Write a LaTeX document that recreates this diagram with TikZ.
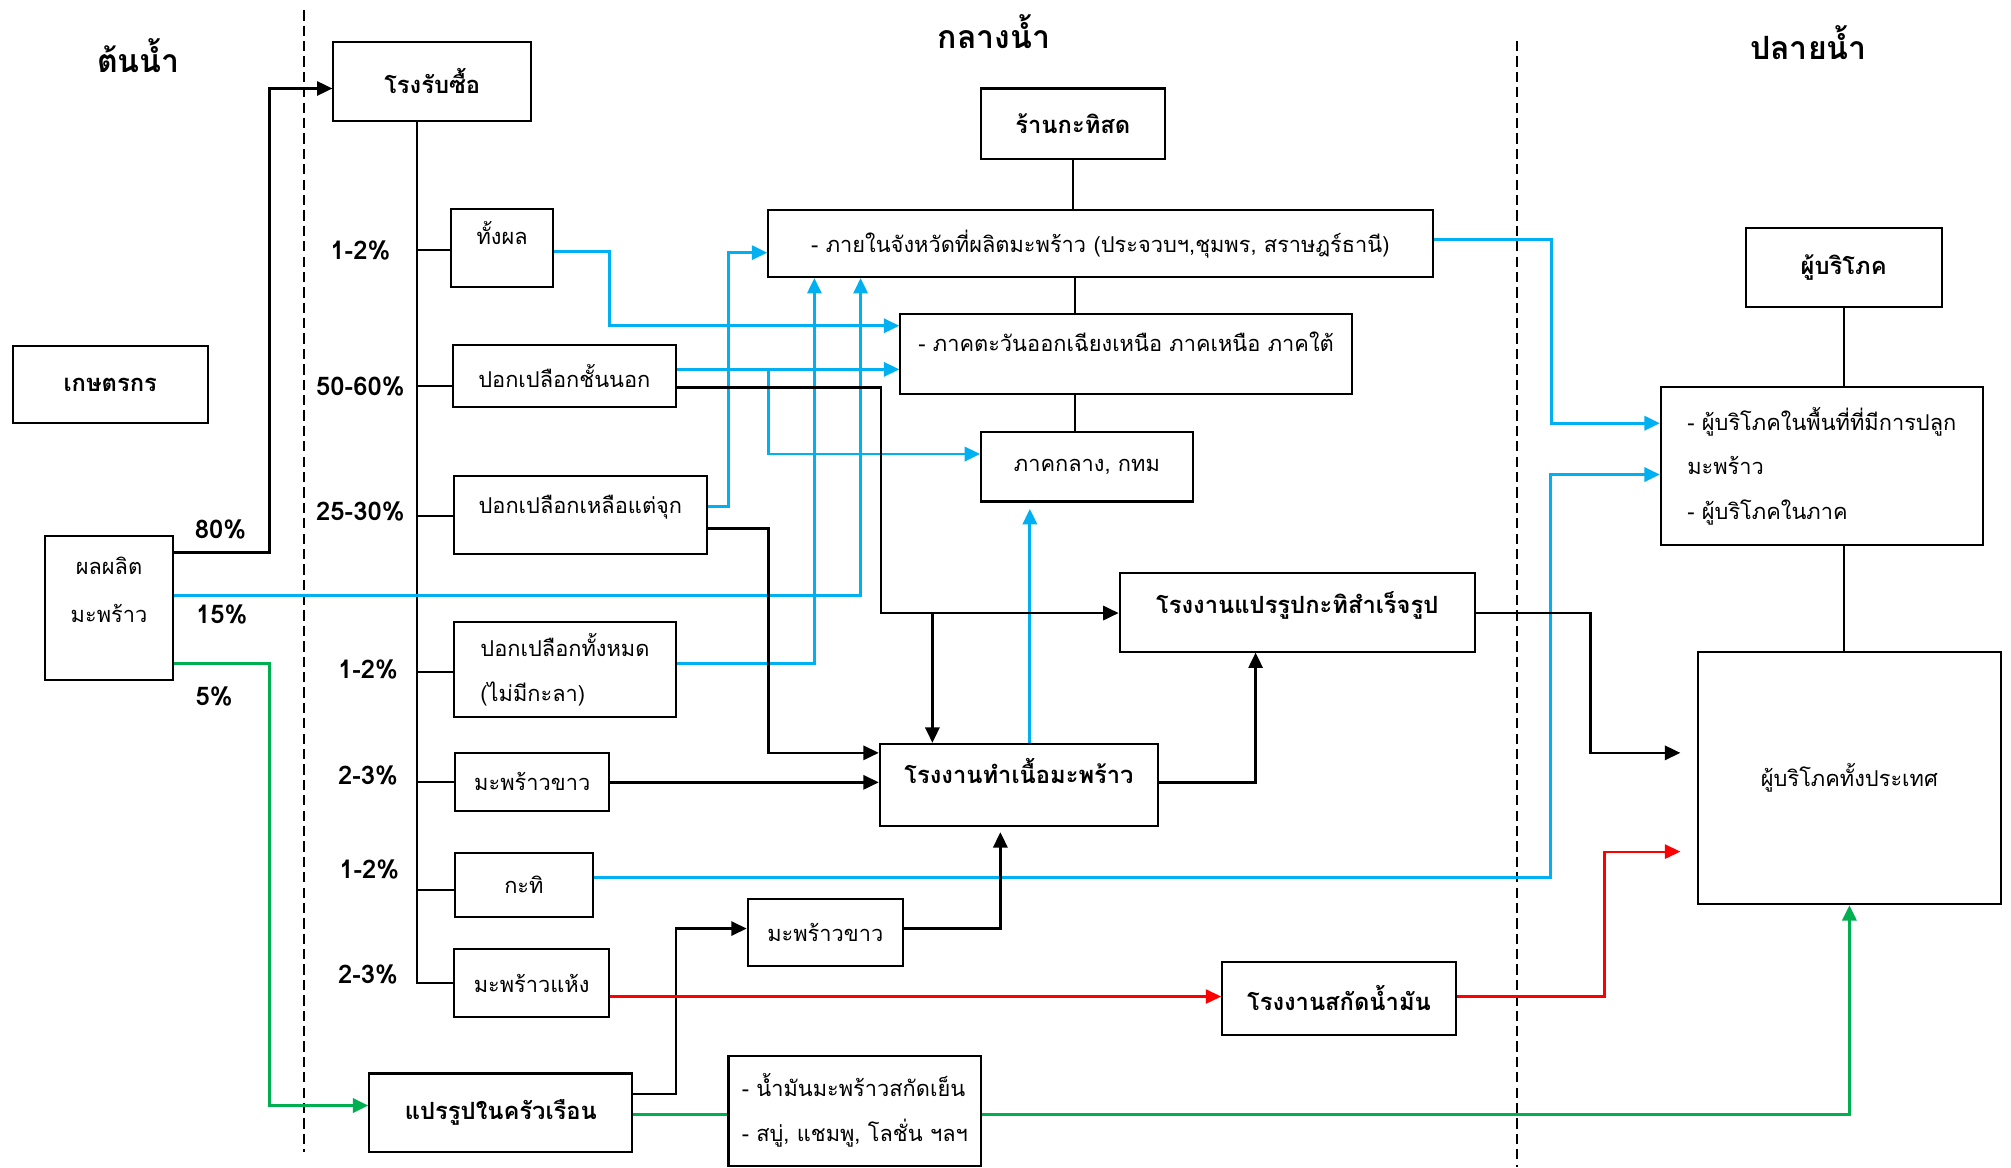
\documentclass[tikz,border=0pt]{standalone}
\usepackage{fontspec}
\setmainfont{Loma}[Script=Thai]
\usetikzlibrary{arrows.meta, positioning}

\definecolor{skyline}{HTML}{00B0F0}
\definecolor{redline}{HTML}{FF0000}
\definecolor{greenline}{HTML}{00B050}

\tikzset{
  box/.style={draw, line width=1.6pt, inner sep=2pt, align=left,
    font=\fontsize{17}{35}\selectfont},
  bbox/.style={box, font=\fontsize{18.5}{35}\selectfont\bfseries},
  lift/.style={text height=12pt, text depth=#1},
  pct/.style={font=\fontsize{20}{22}\selectfont\bfseries},
  zone/.style={font=\fontsize{25}{28}\selectfont\bfseries},
  link/.style={line width=1.6pt},
  flowblk/.style={line width=2pt, -{Triangle[length=12pt,width=11pt]}},
  sky/.style={flowblk, line width=2.3pt, color=skyline},
  redflow/.style={flowblk, line width=1.7pt, color=redline},
  greenflow/.style={flowblk, line width=2.3pt, color=greenline},
  greenline/.style={line width=2.3pt, color=greenline},
  divider/.style={line width=1.3pt, dash pattern=on 8pt off 4pt}
}

\begin{document}
\begin{tikzpicture}[x=1pt, y=-1pt]
\useasboundingbox (0,0) rectangle (1568,910);

% zones
\draw[divider] (237,8) -- (237,898);
\draw[divider] (1183,32) -- (1183,910);
\node[zone] (upstream) at (108,43) {ต้นน้ำ};
\node[zone] (midstream) at (775,25) {กลางน้ำ};
\node[zone] (downstream) at (1410,33) {ปลายน้ำ};

% upstream
\node[bbox, minimum width=152pt, minimum height=60pt] (farmer) at (86,300) {เกษตรกร};
\node[box, minimum width=100pt, minimum height=112pt,
  label={[font=\fontsize{17}{37}\selectfont, align=center, yshift=14pt]center:ผลผลิต\\มะพร้าว}] (product) at (85,474) {};

% buying yard and its outputs
\node[bbox, minimum width=154pt, minimum height=61pt] (buy) at (337,63.5) {โรงรับซื้อ};
\node[box, lift=17pt, minimum width=79pt, minimum height=61pt] (whole) at (391.5,193.5) {ทั้งผล};
\node[box, minimum width=174pt, minimum height=48pt] (outer) at (440,293) {ปอกเปลือกชั้นนอก};
\node[box, lift=15pt, minimum width=197pt, minimum height=61pt] (jook) at (452.5,401.5) {ปอกเปลือกเหลือแต่จุก};
\node[box, minimum width=173pt, minimum height=74pt] (allhusk) at (440.5,522) {ปอกเปลือกทั้งหมด\\(ไม่มีกะลา)};
\node[box, minimum width=120pt, minimum height=45pt] (white1) at (415,609.5) {มะพร้าวขาว};
\node[box, minimum width=107pt, minimum height=50pt] (kati) at (408.5,690) {กะทิ};
\node[box, minimum width=121pt, minimum height=53pt] (dry) at (414.5,766.5) {มะพร้าวแห้ง};
\node[bbox, minimum width=205pt, minimum height=61pt] (household) at (390.5,867.5) {แปรรูปในครัวเรือน};
\node[box, minimum width=197pt, minimum height=86pt] (goods) at (666.5,866) {- น้ำมันมะพร้าวสกัดเย็น\\- สบู่, แชมพู, โลชั่น ฯลฯ};

% percentages
\node[pct] (p80) at (172,413) {80\%};
\node[pct] (p15) at (173,479) {15\%};
\node[pct] (p5) at (167,543) {5\%};
\node[pct] (pwhole) at (281,195) {1-2\%};
\node[pct] (pouter) at (281,301) {50-60\%};
\node[pct] (pjook) at (281,399) {25-30\%};
\node[pct] (pall) at (287,522) {1-2\%};
\node[pct] (pwhite) at (287,605) {2-3\%};
\node[pct] (pkati) at (288,678) {1-2\%};
\node[pct] (pdry) at (287,760) {2-3\%};

% midstream
\node[bbox, minimum width=143pt, minimum height=55pt] (shop) at (836.5,96.5) {ร้านกะทิสด};
\node[box, minimum width=518pt, minimum height=52pt] (prov) at (858,190) {- ภายในจังหวัดที่ผลิตมะพร้าว (ประจวบฯ,ชุมพร, สราษฎร์ธานี)};
\node[box, lift=16pt, minimum width=352pt, minimum height=62pt] (ne) at (878,276) {- ภาคตะวันออกเฉียงเหนือ ภาคเหนือ ภาคใต้};
\node[box, minimum width=165pt, minimum height=54pt] (central) at (847.5,364) {ภาคกลาง, กทม};
\node[bbox, lift=11pt, minimum width=277pt, minimum height=61pt] (ready) at (1011.5,477.5) {โรงงานแปรรูปกะทิสำเร็จรูป};
\node[bbox, lift=14pt, minimum width=217pt, minimum height=64pt] (meat) at (794.5,612) {โรงงานทำเนื้อมะพร้าว};
\node[box, minimum width=121pt, minimum height=52pt] (white2) at (643.5,727) {มะพร้าวขาว};
\node[bbox, minimum width=182pt, minimum height=57pt] (oil) at (1044,778.5) {โรงงานสกัดน้ำมัน};

% downstream
\node[bbox, minimum width=153pt, minimum height=61pt] (consumer) at (1437.5,208.5) {ผู้บริโภค};
\node[box, minimum width=251pt, minimum height=123pt] (local) at (1420.5,363.5) {- ผู้บริโภคในพื้นที่ที่มีการปลูก\\มะพร้าว\\- ผู้บริโภคในภาค};
\node[box, minimum width=236pt, minimum height=197pt] (country) at (1442,606.5) {ผู้บริโภคทั้งประเทศ};

% buying yard tree
\draw[link] (buy.south -| 325,0) |- (dry.west);
\foreach \n/\y in {whole/195, outer/301, jook/402, allhusk/524, white1/610, kati/694}
  \draw[link] (325,\y) -- (\n.west |- 0,\y);

% from the farm
\draw[flowblk] (product.east |- 0,431) -| (210,69) -- (buy.west |- 0,69);
\draw[sky] (product.east |- 0,464) -| (prov.south -| 671,0);
\draw[greenflow] (product.east |- 0,517) -| (210,862) -- (household.west |- 0,862);

% blue: fresh trade
\draw[sky] (whole.east |- 0,196) -| (475,254) -- (ne.west |- 0,254);
\draw[sky] (outer.east |- 0,288) -- (ne.west |- 0,288);
\draw[sky] (outer.east |- 0,288) -- (599,288) |- (central.west |- 0,354);
\draw[sky] (jook.east |- 0,395) -| (568,197) -- (prov.west |- 0,197);
\draw[sky] (allhusk.east |- 0,517) -| (prov.south -| 635,0);
\draw[sky, shorten >=5pt] (meat.north -| 803,0) -- (central.south -| 803,0);
\draw[sky] (prov.east |- 0,187) -| (1210,330) -- (local.west |- 0,330);
\draw[sky] (kati.east |- 0,684) -| (1209,370) -- (local.west |- 0,370);

% black: factories
\coordinate (split) at (727,478);
\draw[flowblk] (outer.east |- 0,302) -| (687,478) -- (ready.west |- 0,478);
\draw[flowblk] (split) -- (meat.north -| split);
\draw[flowblk] (jook.east |- 0,412) -| (599,587) -- (meat.west |- 0,587);
\draw[flowblk] (white1.east |- 0,610) -- (meat.west |- 0,610);
\draw[flowblk] (meat.east |- 0,610) -| (ready.south -| 979,0);
\draw[flowblk, shorten >=4pt] (white2.east |- 0,724) -| (meat.south -| 780,0);
\draw[flowblk] (household.east |- 0,853) -| (527,724) -- (white2.west |- 0,724);
\draw[flowblk, shorten >=13pt] (ready.east |- 0,478) -| (1240,587) -- (country.west |- 0,587);

% red: oil
\draw[redflow] (dry.east |- 0,777) -- (oil.west |- 0,777);
\draw[redflow, shorten >=13pt] (oil.east |- 0,777) -| (1251,664) -- (country.west |- 0,664);

% green: household goods
\draw[greenline] (household.east |- 0,869) -- (goods.west |- 0,869);
\draw[greenflow] (goods.east |- 0,869) -| (country.south);

% plain links
\draw[link] (shop.south) -- (prov.north -| shop.south);
\draw[link] (prov.south -| 838,0) -- (ne.north -| 838,0);
\draw[link] (ne.south -| 838,0) -- (central.north -| 838,0);
\draw[link] (consumer.south) -- (local.north -| consumer.south);
\draw[link] (local.south -| 1438,0) -- (country.north -| 1438,0);

\end{tikzpicture}
\end{document}
